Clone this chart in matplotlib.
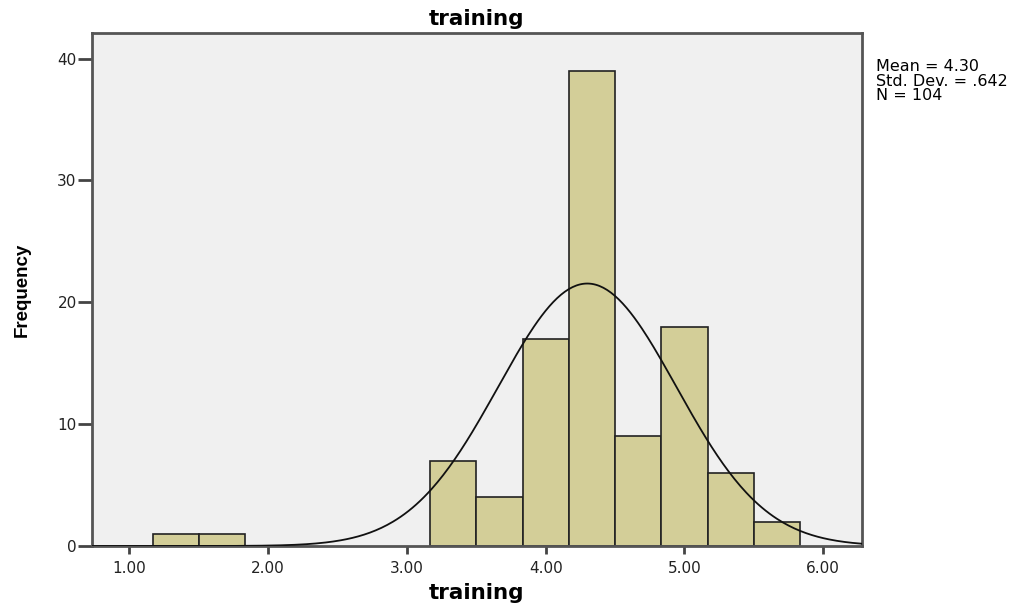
import numpy as np
import matplotlib
matplotlib.use('Agg')
import matplotlib.pyplot as plt

# histogram data (bin edges and frequencies)
bin_edges = [1.1667, 1.5, 1.8333, 2.1667, 2.5, 2.8333, 3.1667, 3.5,
             3.8333, 4.1667, 4.5, 4.8333, 5.1667, 5.5, 5.8333]
counts = [1, 1, 0, 0, 0, 0, 7, 4, 17, 39, 9, 18, 6, 2]
mean = 4.30
std = 0.642
n = 104

xticks = [1.0, 2.0, 3.0, 4.0, 5.0, 6.0]
yticks = [0, 10, 20, 30, 40]

plt.rcParams['font.family'] = ['DejaVu Sans']

fig = plt.figure(figsize=(10.24, 6.07), dpi=100)
ax = fig.add_axes([0.0898, 0.1005, 0.7520, 0.8451])
ax.set_facecolor('#f0f0f0')

edges = np.array(bin_edges)
widths = np.diff(edges)
for left, w, c in zip(edges[:-1], widths, counts):
    if c > 0:
        ax.bar(left, c, width=w, align='edge', color='#d3ce98',
               edgecolor='#222222', linewidth=1.2, zorder=2)

# normal curve scaled to the histogram
xs = np.linspace(0.73, 6.28, 400)
bw = widths[0]
ys = n * bw / (std * np.sqrt(2 * np.pi)) * np.exp(-0.5 * ((xs - mean) / std) ** 2)
ax.plot(xs, ys, color='#111111', linewidth=1.3, zorder=3)

ax.set_xlim(0.73, 6.28)
ax.set_ylim(0, 42.1)
ax.set_xticks(xticks)
ax.set_xticklabels(['%.2f' % t for t in xticks])
ax.set_yticks(yticks)

for s in ax.spines.values():
    s.set_color('#555555')
    s.set_linewidth(2)
ax.tick_params(axis='y', length=10, width=2, color='#444444', labelsize=11,
               pad=1, labelcolor='#222222')
ax.tick_params(axis='x', length=6, width=2, color='#444444', labelsize=11,
               pad=5, labelcolor='#222222')

ax.set_title('training', fontsize=15.5, fontweight='bold', pad=6)
ax.set_xlabel('training', fontsize=15.5, fontweight='bold', va='center')
ax.xaxis.set_label_coords(0.5, -0.0916)
ax.set_ylabel('Frequency', fontsize=13.5, fontweight='bold', va='center',
              family=['Liberation Sans Narrow', 'Liberation Sans'])
ax.yaxis.set_label_coords(-0.091, 0.5)

fig.text(0.855, 0.902, 'Mean = 4.30\nStd. Dev. = .642\nN = 104',
         fontsize=11.5, va='top', ha='left', linespacing=0.92)

fig.savefig('out.png', dpi=100)
